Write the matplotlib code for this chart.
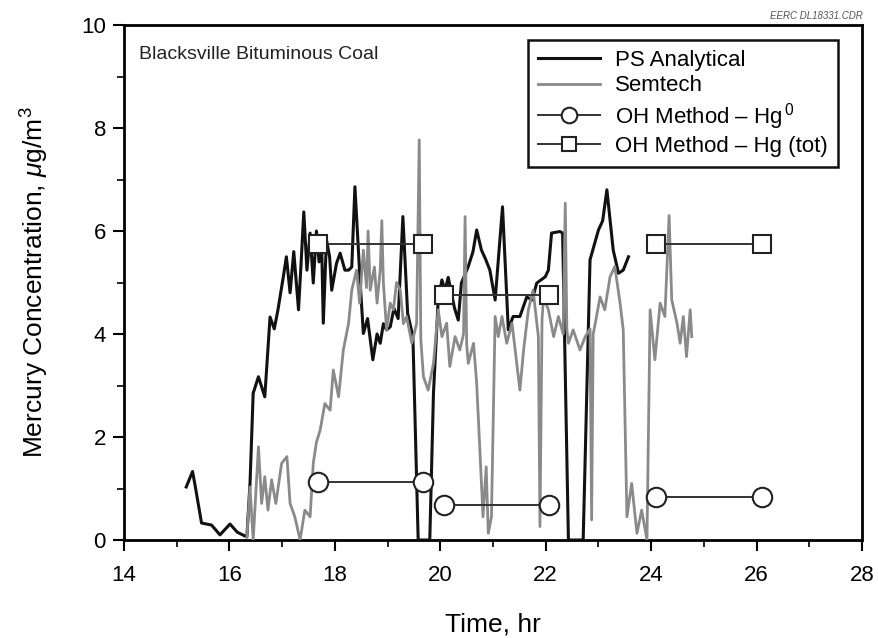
import matplotlib.pyplot as plt
from matplotlib.ticker import MultipleLocator

plt.rcParams['font.family'] = ['Liberation Sans', 'DejaVu Sans']
plt.rcParams['mathtext.fontset'] = 'custom'
plt.rcParams['mathtext.rm'] = 'Liberation Sans'
plt.rcParams['mathtext.it'] = 'Liberation Sans:italic'

# PS Analytical CMM trace (time in hr, Hg in ug/m3)
ps_time = [15.18, 15.30, 15.35, 15.47, 15.66, 15.82, 16.01, 16.15, 16.33, 16.39,
           16.45, 16.55, 16.67, 16.77, 16.85, 16.92, 17.02, 17.08, 17.15, 17.22,
           17.31, 17.36, 17.41, 17.47, 17.53, 17.59, 17.65, 17.70, 17.75, 17.78,
           17.84, 17.90, 17.94, 18.03, 18.10, 18.19, 18.26, 18.32, 18.38, 18.48,
           18.54, 18.62, 18.72, 18.80, 18.86, 18.92, 18.98, 19.05, 19.12, 19.20,
           19.29, 19.38, 19.48, 19.58, 19.80, 19.87, 19.96, 20.03, 20.09, 20.15,
           20.20, 20.27, 20.34, 20.40, 20.53, 20.62, 20.69, 20.78, 20.86, 20.94,
           21.04, 21.18, 21.29, 21.38, 21.51, 21.64, 21.74, 21.83, 21.99, 22.05,
           22.11, 22.27, 22.32, 22.43, 22.71, 22.84, 23.00, 23.08, 23.16, 23.28,
           23.38, 23.47, 23.57]
ps_hg = [1.03, 1.33, 1.05, 0.33, 0.29, 0.10, 0.31, 0.15, 0.06, 1.10,
         2.85, 3.17, 2.78, 4.33, 4.10, 4.47, 5.10, 5.50, 4.80, 5.60,
         4.47, 5.40, 6.37, 5.24, 5.96, 4.99, 6.00, 5.40, 5.70, 4.21,
         5.83, 5.50, 4.85, 5.37, 5.57, 5.24, 5.24, 5.30, 6.86, 5.00,
         4.01, 4.30, 3.50, 4.00, 3.82, 4.20, 4.08, 4.14, 4.50, 4.30,
         6.28, 4.40, 3.95, 0.00, 0.00, 2.85, 4.66, 5.05, 4.85, 5.10,
         4.85, 4.50, 4.27, 4.99, 5.31, 5.60, 6.02, 5.63, 5.45, 5.24,
         4.66, 6.47, 4.08, 4.34, 4.34, 4.72, 4.66, 4.99, 5.11, 5.24,
         5.96, 5.99, 5.96, 0.00, 0.00, 5.44, 6.02, 6.20, 6.80, 5.63,
         5.18, 5.24, 5.50]

# Semtech trace
sem_time = [16.33, 16.39, 16.45, 16.55, 16.61, 16.67, 16.73, 16.80, 16.88, 16.99,
            17.09, 17.15, 17.24, 17.34, 17.43, 17.53, 17.59, 17.65, 17.72, 17.81,
            17.91, 17.97, 18.07, 18.16, 18.26, 18.32, 18.41, 18.47, 18.54, 18.60,
            18.63, 18.67, 18.75, 18.80, 18.86, 18.89, 18.92, 18.98, 19.05, 19.11,
            19.17, 19.24, 19.30, 19.36, 19.46, 19.55, 19.60, 19.63, 19.68, 19.77,
            19.87, 19.96, 20.03, 20.12, 20.18, 20.28, 20.37, 20.44, 20.47, 20.50,
            20.53, 20.63, 20.69, 20.75, 20.81, 20.87, 20.91, 20.97, 21.04, 21.10,
            21.17, 21.26, 21.36, 21.45, 21.51, 21.58, 21.67, 21.76, 21.86, 21.89,
            21.93, 21.96, 22.05, 22.15, 22.24, 22.33, 22.37, 22.40, 22.43, 22.52,
            22.65, 22.75, 22.84, 22.87, 22.90, 22.94, 23.03, 23.12, 23.22, 23.31,
            23.41, 23.47, 23.54, 23.63, 23.73, 23.82, 23.92, 23.98, 24.07, 24.17,
            24.26, 24.34, 24.39, 24.49, 24.55, 24.61, 24.67, 24.74, 24.77]
sem_hg = [0.06, 1.03, 0.00, 1.81, 0.71, 1.23, 0.58, 1.17, 0.71, 1.49,
          1.62, 0.71, 0.45, 0.00, 0.58, 0.45, 1.49, 1.90, 2.13, 2.65,
          2.52, 3.30, 2.78, 3.69, 4.21, 4.85, 5.24, 4.60, 5.63, 4.90,
          6.00, 4.85, 5.30, 4.60, 5.24, 6.20, 5.00, 4.08, 4.60, 4.47,
          5.00, 4.85, 4.20, 4.34, 3.82, 4.20, 7.77, 3.90, 3.17, 2.91,
          3.43, 4.47, 3.95, 4.21, 3.37, 3.95, 3.69, 4.00, 6.28, 3.80,
          3.43, 3.82, 3.04, 1.75, 0.45, 1.42, 0.13, 0.45, 4.34, 3.95,
          4.34, 3.82, 4.21, 3.43, 2.91, 3.69, 4.47, 4.85, 3.95, 0.26,
          4.30, 4.72, 4.47, 3.95, 4.34, 4.00, 6.54, 4.10, 3.82, 4.08,
          3.69, 3.95, 4.10, 0.39, 4.00, 4.21, 4.72, 4.47, 5.11, 5.31,
          4.60, 4.08, 0.45, 1.10, 0.13, 0.58, 0.00, 4.47, 3.50, 4.60,
          4.34, 6.30, 4.66, 4.21, 3.82, 4.34, 3.56, 4.47, 3.95]

# Ontario Hydro sampling periods (start, end) and results
oh_start = [17.68, 20.07, 24.10]
oh_end = [19.67, 22.06, 26.10]
oh_hg0 = [1.12, 0.68, 0.83]
oh_hgtot = [5.75, 4.75, 5.75]

fig = plt.figure(figsize=(8.79, 6.38), dpi=100)
ax = fig.add_axes([0.1411, 0.1536, 0.8396, 0.8072])

ax.plot(ps_time, ps_hg, color='#111111', lw=2.2, label='PS Analytical', zorder=3)
ax.plot(sem_time, sem_hg, color='#8a8a8a', lw=2.0, label='Semtech', zorder=4)

for i in range(len(oh_start)):
    lab0 = 'OH Method \u2013 Hg$^{\\,0}$' if i == 0 else None
    labt = 'OH Method \u2013 Hg (tot)' if i == 0 else None
    ax.plot([oh_start[i], oh_end[i]], [oh_hg0[i], oh_hg0[i]], color='#333333', lw=1.4,
            marker='o', ms=14, mfc='white', mec='#222222', mew=1.5, label=lab0, zorder=5)
    ax.plot([oh_start[i], oh_end[i]], [oh_hgtot[i], oh_hgtot[i]], color='#333333', lw=1.4,
            marker='s', ms=12.5, mfc='white', mec='#222222', mew=1.5, label=labt, zorder=5)

ax.set_xlim(14, 28)
ax.set_ylim(0, 10)
ax.xaxis.set_major_locator(MultipleLocator(2))
ax.xaxis.set_minor_locator(MultipleLocator(1))
ax.yaxis.set_major_locator(MultipleLocator(2))
ax.yaxis.set_minor_locator(MultipleLocator(1))
ax.tick_params(which='major', direction='out', length=8, width=1.5, labelsize=16)
ax.tick_params(axis='x', which='major', pad=10)
ax.tick_params(axis='y', which='major', pad=5)
ax.tick_params(which='minor', direction='out', length=5, width=1.2)
for s in ax.spines.values():
    s.set_linewidth(2.0)

ax.set_xlabel('Time, hr', fontsize=19, labelpad=19)
ax.set_ylabel('Mercury Concentration, $\\mu$g/m$^3$', fontsize=19, labelpad=22)

ax.text(14.28, 9.42, 'Blacksville Bituminous Coal', fontsize=14, va='center', color='#222222')
fig.text(0.981, 0.982, 'EERC DL18331.CDR', fontsize=7, style='italic',
         ha='right', va='top', color='#555555')

leg = ax.legend(loc='upper right', bbox_to_anchor=(0.9675, 0.971), borderaxespad=0,
                fontsize=16, handlelength=2.8, labelspacing=0.2, borderpad=0.45,
                handletextpad=0.7, fancybox=False, framealpha=1, edgecolor='#111111',
                markerscale=0.8)
leg.get_frame().set_linewidth(1.8)

plt.savefig('out.png', dpi=100)
